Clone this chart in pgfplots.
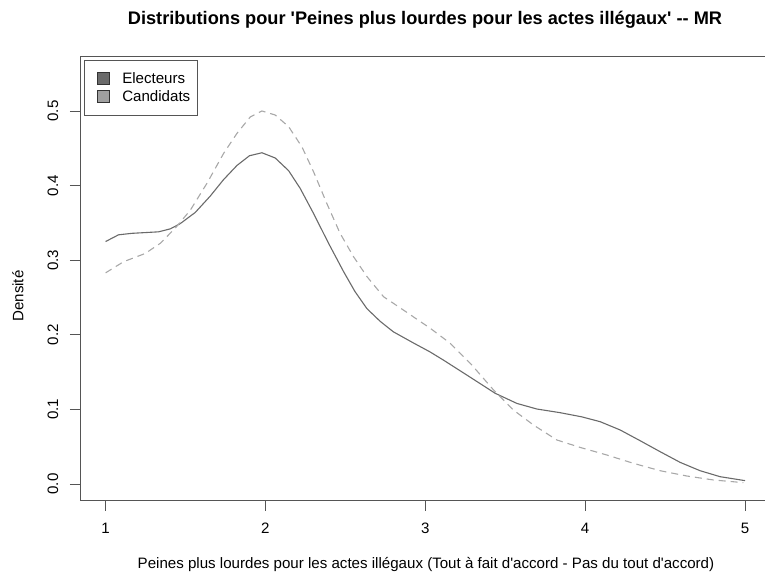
\documentclass[border=0pt]{standalone}
\usepackage{pgfplots}
\pgfplotsset{compat=1.18}
\usepackage{fontspec}
\setmainfont{Liberation Sans}
\definecolor{frame}{HTML}{555555}
\definecolor{elec}{HTML}{6A6A6A}
\definecolor{cand}{HTML}{A8A8A8}
\definecolor{elecfill}{HTML}{6B6B6B}
\definecolor{candfill}{HTML}{A0A0A0}
\begin{document}
\begin{tikzpicture}[x=1pt,y=1pt]
\path[use as bounding box] (0,0) rectangle (765,574);
\begin{axis}[
  scale only axis,
  width=690.6pt, height=444.7pt,
  at={(80pt,73.3pt)}, anchor=south west,
  xmin=0.84, xmax=5.16, ymin=-0.0224, ymax=0.5737,
  axis line style={frame, line width=0.9pt},
  tick style={frame, line width=0.9pt},
  tick align=outside, major tick length=10pt,
  xtick={1,2,3,4,5}, ytick={0,0.1,0.2,0.3,0.4,0.5},
  xtick pos=bottom, ytick pos=left,
  /pgf/number format/assume math mode=true,
  /pgf/number format/fixed, /pgf/number format/fixed zerofill,
  /pgf/number format/precision=1,
  xticklabel={\pgfmathprintnumber[fixed,precision=0]{\tick}},
  tick label style={font=\fontsize{15.1}{18}\selectfont},
  xticklabel style={anchor=center, yshift=-18pt},
  yticklabel style={rotate=90, anchor=center, yshift=17pt},
  legend style={at={(rel axis cs:0.0054,0.991)}, anchor=north west,
    draw=frame, line width=0.9pt, font=\fontsize{15.1}{18}\selectfont,
    inner xsep=1pt, inner ysep=10pt, row sep=1.7pt,
    nodes={inner xsep=6pt, inner ysep=2pt}},
  legend cell align=left,
]
\addplot[elec, line width=1.1pt, legend image code/.code={\path (0pt,0pt) (30pt,0pt); \draw[solid, fill=elecfill, draw=black!80, line width=0.7pt] (12pt,-6pt) rectangle (24pt,6pt);}] coordinates {
(1.0,0.325) (1.081,0.334) (1.165,0.336) (1.331,0.338) (1.405,0.342) (1.467,0.349)
(1.561,0.364) (1.655,0.386) (1.738,0.408) (1.822,0.427) (1.90,0.440) (1.978,0.444)
(2.061,0.437) (2.145,0.420) (2.218,0.396) (2.30,0.363) (2.394,0.323) (2.488,0.285)
(2.56,0.258) (2.635,0.235) (2.718,0.218) (2.80,0.204) (2.926,0.189) (3.03,0.177)
(3.114,0.166) (3.26,0.146) (3.437,0.1216) (3.573,0.108) (3.698,0.1005) (3.843,0.0956)
(3.979,0.090) (4.094,0.0835) (4.219,0.0724) (4.344,0.058) (4.469,0.0433) (4.594,0.029)
(4.719,0.0178) (4.844,0.0098) (5.0,0.0045)
};
\addlegendentry{Electeurs}
\addplot[cand, line width=1.1pt, dash pattern=on 7pt off 5pt, legend image code/.code={\path (0pt,0pt) (30pt,0pt); \draw[solid, fill=candfill, draw=black!80, line width=0.7pt] (12pt,-6pt) rectangle (24pt,6pt);}] coordinates {
(1.0,0.283) (1.113,0.298) (1.248,0.309) (1.342,0.3226) (1.436,0.343) (1.53,0.367)
(1.634,0.403) (1.738,0.443) (1.822,0.470) (1.905,0.492) (1.978,0.500) (2.061,0.4946)
(2.145,0.479) (2.228,0.452) (2.30,0.419) (2.384,0.376) (2.467,0.336) (2.551,0.3047)
(2.635,0.278) (2.739,0.251) (2.864,0.233) (3.031,0.2087) (3.156,0.1886) (3.291,0.1595)
(3.427,0.126) (3.552,0.099) (3.677,0.079) (3.823,0.059) (3.969,0.049) (4.135,0.0389)
(4.302,0.0277) (4.469,0.0178) (4.636,0.0107) (4.802,0.0054) (4.99,0.0018)
};
\addlegendentry{Candidats}
\end{axis}
\node[font=\fontsize{18.2}{21}\selectfont\bfseries] at (425,554) {Distributions pour \textquotesingle Peines plus lourdes pour les actes illégaux\textquotesingle\ -{}- MR};
\node[font=\fontsize{15.1}{18}\selectfont] at (426,9) {Peines plus lourdes pour les actes illégaux (Tout à fait d\textquotesingle accord - Pas du tout d\textquotesingle accord)};
\node[font=\fontsize{15.1}{18}\selectfont, rotate=90] at (18,278) {Densité};
\end{tikzpicture}
\end{document}
